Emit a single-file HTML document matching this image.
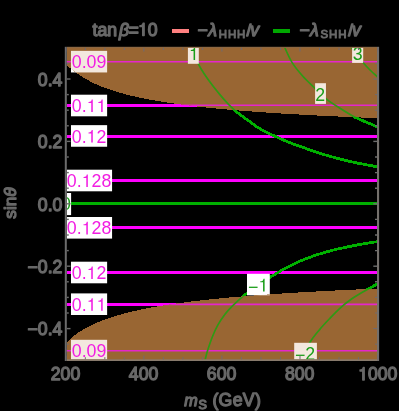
<!DOCTYPE html>
<html><head><meta charset="utf-8"><title>plot</title>
<style>
html,body{margin:0;padding:0;background:#000;}
body{width:399px;height:411px;overflow:hidden;}
svg{display:block;will-change:transform}
text{font-family:"Liberation Sans",sans-serif;}
.g{fill:#686868;stroke:#686868;stroke-width:1.30px;stroke-linejoin:round;font-size:17.7px}
.m{fill:#f21ce2;font-size:17.8px}
.gr{fill:#1a9e18;font-size:17.8px}
</style></head><body>
<svg width="399" height="411" viewBox="0 0 399 411">
<defs>
<clipPath id="fr"><rect x="66.80" y="48.00" width="310.20" height="311.20"/></clipPath>
<clipPath id="br"><path d="M66.50 65.19 C66.83 65.47 67.83 66.29 68.50 66.83 C69.17 67.37 69.83 67.92 70.50 68.45 C71.17 68.99 71.83 69.52 72.50 70.04 C73.17 70.56 73.83 71.07 74.50 71.57 C75.17 72.07 75.83 72.56 76.50 73.04 C77.17 73.51 77.83 73.98 78.50 74.44 C79.17 74.89 79.83 75.34 80.50 75.77 C81.17 76.21 81.83 76.63 82.50 77.04 C83.17 77.46 83.83 77.86 84.50 78.25 C85.17 78.65 85.50 78.86 86.50 79.41 C87.50 79.95 89.17 80.87 90.50 81.55 C91.83 82.23 93.17 82.88 94.50 83.50 C95.83 84.12 97.17 84.71 98.50 85.28 C99.83 85.85 101.17 86.40 102.50 86.92 C103.83 87.45 105.17 87.95 106.50 88.43 C107.83 88.92 109.17 89.38 110.50 89.83 C111.83 90.28 113.17 90.71 114.50 91.13 C115.83 91.55 117.17 91.95 118.50 92.34 C119.83 92.73 121.17 93.11 122.50 93.47 C123.83 93.84 125.17 94.19 126.50 94.54 C127.83 94.88 129.17 95.21 130.50 95.53 C131.83 95.86 133.17 96.17 134.50 96.48 C135.83 96.78 137.17 97.08 138.50 97.36 C139.83 97.65 141.17 97.93 142.50 98.21 C143.83 98.48 145.17 98.74 146.50 99.00 C147.83 99.26 149.17 99.51 150.50 99.76 C151.83 100.01 153.17 100.25 154.50 100.48 C155.83 100.72 157.17 100.95 158.50 101.17 C159.83 101.39 161.17 101.61 162.50 101.83 C163.83 102.04 165.17 102.25 166.50 102.45 C167.83 102.66 169.17 102.86 170.50 103.05 C171.83 103.25 173.17 103.44 174.50 103.63 C175.83 103.82 177.17 104.00 178.50 104.18 C179.83 104.36 181.17 104.54 182.50 104.71 C183.83 104.89 185.17 105.05 186.50 105.22 C187.83 105.39 189.17 105.55 190.50 105.71 C191.83 105.87 193.17 106.03 194.50 106.19 C195.83 106.34 197.17 106.49 198.50 106.64 C199.83 106.79 201.17 106.94 202.50 107.08 C203.83 107.23 205.17 107.37 206.50 107.51 C207.83 107.65 209.17 107.78 210.50 107.92 C211.83 108.05 213.17 108.19 214.50 108.32 C215.83 108.45 217.17 108.57 218.50 108.70 C219.83 108.83 221.17 108.95 222.50 109.07 C223.83 109.20 225.17 109.32 226.50 109.44 C227.83 109.56 229.17 109.67 230.50 109.79 C231.83 109.90 233.17 110.02 234.50 110.13 C235.83 110.24 237.17 110.35 238.50 110.46 C239.83 110.57 241.17 110.68 242.50 110.78 C243.83 110.89 245.17 110.99 246.50 111.09 C247.83 111.20 249.17 111.30 250.50 111.40 C251.83 111.50 253.17 111.60 254.50 111.69 C255.83 111.79 257.17 111.89 258.50 111.98 C259.83 112.08 261.17 112.17 262.50 112.26 C263.83 112.36 265.17 112.45 266.50 112.54 C267.83 112.63 269.17 112.72 270.50 112.81 C271.83 112.89 273.17 112.98 274.50 113.07 C275.83 113.15 277.17 113.24 278.50 113.32 C279.83 113.40 281.17 113.49 282.50 113.57 C283.83 113.65 285.17 113.73 286.50 113.81 C287.83 113.89 289.17 113.97 290.50 114.05 C291.83 114.13 293.17 114.21 294.50 114.28 C295.83 114.36 297.17 114.43 298.50 114.51 C299.83 114.58 301.17 114.66 302.50 114.73 C303.83 114.80 305.17 114.88 306.50 114.95 C307.83 115.02 309.17 115.09 310.50 115.16 C311.83 115.23 313.17 115.30 314.50 115.37 C315.83 115.44 317.17 115.51 318.50 115.57 C319.83 115.64 321.17 115.71 322.50 115.77 C323.83 115.84 325.17 115.90 326.50 115.97 C327.83 116.03 329.17 116.10 330.50 116.16 C331.83 116.22 333.17 116.29 334.50 116.35 C335.83 116.41 337.17 116.47 338.50 116.53 C339.83 116.59 341.17 116.65 342.50 116.71 C343.83 116.77 345.17 116.83 346.50 116.89 C347.83 116.95 349.17 117.01 350.50 117.07 C351.83 117.12 353.17 117.18 354.50 117.24 C355.83 117.29 357.17 117.35 358.50 117.41 C359.83 117.46 361.17 117.52 362.50 117.57 C363.83 117.63 365.17 117.68 366.50 117.73 C367.83 117.79 369.17 117.84 370.50 117.89 C371.83 117.95 373.35 118.01 374.50 118.05 C375.65 118.10 376.92 118.14 377.40 118.16 L377.40 47.10 L66.50 47.10 Z"/><path d="M66.50 342.77 C66.83 342.42 67.83 341.30 68.50 340.62 C69.17 339.94 69.83 339.31 70.50 338.70 C71.17 338.08 71.83 337.50 72.50 336.94 C73.17 336.39 73.83 335.85 74.50 335.34 C75.17 334.82 75.83 334.33 76.50 333.85 C77.17 333.37 77.83 332.90 78.50 332.46 C79.17 332.01 79.83 331.57 80.50 331.15 C81.17 330.73 81.83 330.32 82.50 329.92 C83.17 329.52 83.83 329.13 84.50 328.75 C85.17 328.38 85.50 328.18 86.50 327.65 C87.50 327.12 89.17 326.25 90.50 325.60 C91.83 324.94 93.17 324.32 94.50 323.72 C95.83 323.12 97.17 322.55 98.50 322.00 C99.83 321.45 101.17 320.93 102.50 320.42 C103.83 319.91 105.17 319.42 106.50 318.95 C107.83 318.47 109.17 318.02 110.50 317.58 C111.83 317.14 113.17 316.72 114.50 316.30 C115.83 315.89 117.17 315.50 118.50 315.11 C119.83 314.73 121.17 314.35 122.50 313.99 C123.83 313.63 125.17 313.28 126.50 312.94 C127.83 312.60 129.17 312.27 130.50 311.94 C131.83 311.62 133.17 311.31 134.50 311.00 C135.83 310.70 137.17 310.40 138.50 310.11 C139.83 309.82 141.17 309.54 142.50 309.27 C143.83 308.99 145.17 308.73 146.50 308.47 C147.83 308.20 149.17 307.95 150.50 307.70 C151.83 307.45 153.17 307.21 154.50 306.97 C155.83 306.73 157.17 306.50 158.50 306.27 C159.83 306.05 161.17 305.83 162.50 305.61 C163.83 305.39 165.17 305.18 166.50 304.97 C167.83 304.76 169.17 304.56 170.50 304.36 C171.83 304.16 173.17 303.96 174.50 303.77 C175.83 303.58 177.17 303.39 178.50 303.21 C179.83 303.02 181.17 302.84 182.50 302.66 C183.83 302.49 185.17 302.31 186.50 302.14 C187.83 301.97 189.17 301.80 190.50 301.64 C191.83 301.47 193.17 301.31 194.50 301.15 C195.83 300.99 197.17 300.83 198.50 300.68 C199.83 300.53 201.17 300.38 202.50 300.23 C203.83 300.08 205.17 299.93 206.50 299.79 C207.83 299.64 209.17 299.50 210.50 299.36 C211.83 299.22 213.17 299.09 214.50 298.95 C215.83 298.82 217.17 298.68 218.50 298.55 C219.83 298.42 221.17 298.29 222.50 298.16 C223.83 298.04 225.17 297.91 226.50 297.79 C227.83 297.67 229.17 297.54 230.50 297.42 C231.83 297.30 233.17 297.19 234.50 297.07 C235.83 296.95 237.17 296.84 238.50 296.73 C239.83 296.61 241.17 296.50 242.50 296.39 C243.83 296.28 245.17 296.17 246.50 296.06 C247.83 295.96 249.17 295.85 250.50 295.75 C251.83 295.64 253.17 295.54 254.50 295.44 C255.83 295.34 257.17 295.23 258.50 295.14 C259.83 295.04 261.17 294.94 262.50 294.84 C263.83 294.74 265.17 294.65 266.50 294.55 C267.83 294.46 269.17 294.37 270.50 294.27 C271.83 294.18 273.17 294.09 274.50 294.00 C275.83 293.91 277.17 293.82 278.50 293.73 C279.83 293.65 281.17 293.56 282.50 293.47 C283.83 293.39 285.17 293.30 286.50 293.22 C287.83 293.13 289.17 293.05 290.50 292.97 C291.83 292.89 293.17 292.81 294.50 292.72 C295.83 292.64 297.17 292.56 298.50 292.49 C299.83 292.41 301.17 292.33 302.50 292.25 C303.83 292.18 305.17 292.10 306.50 292.02 C307.83 291.95 309.17 291.87 310.50 291.80 C311.83 291.73 313.17 291.65 314.50 291.58 C315.83 291.51 317.17 291.44 318.50 291.37 C319.83 291.29 321.17 291.22 322.50 291.15 C323.83 291.08 325.17 291.02 326.50 290.95 C327.83 290.88 329.17 290.81 330.50 290.74 C331.83 290.68 333.17 290.61 334.50 290.55 C335.83 290.48 337.17 290.41 338.50 290.35 C339.83 290.29 341.17 290.22 342.50 290.16 C343.83 290.09 345.17 290.03 346.50 289.97 C347.83 289.91 349.17 289.85 350.50 289.79 C351.83 289.72 353.17 289.66 354.50 289.60 C355.83 289.54 357.17 289.48 358.50 289.43 C359.83 289.37 361.17 289.31 362.50 289.25 C363.83 289.19 365.17 289.13 366.50 289.08 C367.83 289.02 369.17 288.96 370.50 288.91 C371.83 288.85 373.35 288.79 374.50 288.74 C375.65 288.69 376.92 288.64 377.40 288.62 L377.40 359.60 L66.50 359.60 Z"/></clipPath>
</defs>
<rect width="399" height="411" fill="#000"/>

<g clip-path="url(#fr)">
<g stroke="#ff00ff" stroke-width="3" fill="none">
<line x1="65.8" y1="61.50" x2="378.1" y2="61.50"/>
<line x1="65.8" y1="105.50" x2="378.1" y2="105.50"/>
<line x1="65.8" y1="136.50" x2="378.1" y2="136.50"/>
<line x1="65.8" y1="180.50" x2="378.1" y2="180.50"/>
<line x1="65.8" y1="227.50" x2="378.1" y2="227.50"/>
<line x1="65.8" y1="272.50" x2="378.1" y2="272.50"/>
<line x1="65.8" y1="304.50" x2="378.1" y2="304.50"/>
<line x1="65.8" y1="350.60" x2="378.1" y2="350.60"/>
</g>
<g stroke="#00b000" stroke-width="2.8" fill="none" shape-rendering="crispEdges">
<line x1="65.8" y1="203.5" x2="378.1" y2="203.5" stroke-width="3"/>
<path d="M191.00 47.00 C192.22 49.80 195.97 59.13 198.30 63.80 C200.63 68.47 202.62 71.37 205.00 75.00 C207.38 78.63 210.08 82.28 212.60 85.60 C215.12 88.92 217.60 91.93 220.10 94.90 C222.60 97.87 225.10 100.78 227.60 103.40 C230.10 106.02 232.70 108.50 235.10 110.60 C237.50 112.70 239.72 114.28 242.00 116.00 C244.28 117.72 246.22 119.03 248.80 120.90 C251.38 122.77 254.58 125.30 257.50 127.20 C260.42 129.10 263.37 130.78 266.30 132.30 C269.23 133.82 272.17 134.98 275.10 136.30 C278.03 137.62 280.98 138.97 283.90 140.20 C286.82 141.43 289.68 142.60 292.60 143.70 C295.52 144.80 298.50 145.75 301.40 146.80 C304.30 147.85 306.12 148.67 310.00 150.00 C313.88 151.33 319.77 153.32 324.70 154.80 C329.63 156.28 334.05 157.50 339.60 158.90 C345.15 160.30 351.53 161.85 358.00 163.20 C364.47 164.55 375.00 166.37 378.40 167.00"/>
<path d="M284.50 47.00 C285.75 49.57 289.02 57.60 292.00 62.40 C294.98 67.20 298.68 71.58 302.40 75.80 C306.12 80.02 310.33 83.87 314.30 87.70 C318.27 91.53 321.98 95.42 326.20 98.80 C330.42 102.18 334.87 104.97 339.60 108.00 C344.33 111.03 349.62 114.42 354.60 117.00 C359.58 119.58 365.53 121.77 369.50 123.50 C373.47 125.23 376.92 126.75 378.40 127.40"/>
<path d="M351.00 47.00 C352.00 48.33 355.00 52.42 357.00 55.00 C359.00 57.58 360.83 60.00 363.00 62.50 C365.17 65.00 367.43 67.48 370.00 70.00 C372.57 72.52 377.00 76.33 378.40 77.60"/>
<path d="M204.80 361.00 C204.92 360.57 205.03 360.15 205.50 358.40 C205.97 356.65 206.43 354.15 207.60 350.50 C208.77 346.85 210.80 340.73 212.50 336.50 C214.20 332.27 215.75 328.75 217.80 325.10 C219.85 321.45 222.75 317.38 224.80 314.60 C226.85 311.82 228.33 310.30 230.10 308.40 C231.87 306.50 233.65 304.87 235.40 303.20 C237.15 301.53 238.70 300.05 240.60 298.40 C242.50 296.75 243.90 295.57 246.80 293.30 C249.70 291.03 254.10 287.48 258.00 284.80 C261.90 282.12 266.10 279.70 270.20 277.20 C274.30 274.70 277.82 272.40 282.60 269.80 C287.38 267.20 293.47 264.00 298.90 261.60 C304.33 259.20 309.77 257.25 315.20 255.40 C320.63 253.55 326.08 251.92 331.50 250.50 C336.92 249.08 342.28 248.03 347.70 246.90 C353.12 245.77 358.88 244.60 364.00 243.70 C369.12 242.80 376.00 241.87 378.40 241.50"/>
<path d="M301.00 361.00 C302.50 357.87 306.83 347.52 310.00 342.20 C313.17 336.88 316.65 333.12 320.00 329.10 C323.35 325.08 326.75 321.60 330.10 318.10 C333.45 314.60 336.77 311.12 340.10 308.10 C343.43 305.08 346.75 302.42 350.10 300.00 C353.45 297.58 357.18 295.43 360.20 293.60 C363.22 291.77 365.17 290.72 368.20 289.00 C371.23 287.28 376.70 284.25 378.40 283.30"/>
</g>
<rect x="70.98" y="50.85" width="36.14" height="21.60" fill="#fff"/>
<rect x="70.98" y="94.70" width="36.14" height="21.60" fill="#fff"/>
<rect x="70.98" y="125.15" width="36.14" height="21.60" fill="#fff"/>
<rect x="66.03" y="169.70" width="46.04" height="21.60" fill="#fff"/>
<rect x="66.03" y="217.00" width="46.04" height="21.60" fill="#fff"/>
<rect x="70.98" y="261.70" width="36.14" height="21.60" fill="#fff"/>
<rect x="70.98" y="293.40" width="36.14" height="21.60" fill="#fff"/>
<rect x="70.98" y="339.80" width="36.14" height="21.60" fill="#fff"/>
<rect x="187.90" y="47.00" width="10.90" height="16.80" fill="#fff"/>
<rect x="315.10" y="83.20" width="10.85" height="20.70" fill="#fff"/>
<rect x="352.10" y="47.00" width="11.10" height="15.90" fill="#fff"/>
<rect x="247.00" y="273.80" width="22.80" height="21.50" fill="#fff"/>
<rect x="294.20" y="342.80" width="22.70" height="18.20" fill="#fff"/>
<rect x="60.00" y="193.00" width="11.10" height="22.10" fill="#fff"/>
</g>
<path d="M66.50 65.19 C66.83 65.47 67.83 66.29 68.50 66.83 C69.17 67.37 69.83 67.92 70.50 68.45 C71.17 68.99 71.83 69.52 72.50 70.04 C73.17 70.56 73.83 71.07 74.50 71.57 C75.17 72.07 75.83 72.56 76.50 73.04 C77.17 73.51 77.83 73.98 78.50 74.44 C79.17 74.89 79.83 75.34 80.50 75.77 C81.17 76.21 81.83 76.63 82.50 77.04 C83.17 77.46 83.83 77.86 84.50 78.25 C85.17 78.65 85.50 78.86 86.50 79.41 C87.50 79.95 89.17 80.87 90.50 81.55 C91.83 82.23 93.17 82.88 94.50 83.50 C95.83 84.12 97.17 84.71 98.50 85.28 C99.83 85.85 101.17 86.40 102.50 86.92 C103.83 87.45 105.17 87.95 106.50 88.43 C107.83 88.92 109.17 89.38 110.50 89.83 C111.83 90.28 113.17 90.71 114.50 91.13 C115.83 91.55 117.17 91.95 118.50 92.34 C119.83 92.73 121.17 93.11 122.50 93.47 C123.83 93.84 125.17 94.19 126.50 94.54 C127.83 94.88 129.17 95.21 130.50 95.53 C131.83 95.86 133.17 96.17 134.50 96.48 C135.83 96.78 137.17 97.08 138.50 97.36 C139.83 97.65 141.17 97.93 142.50 98.21 C143.83 98.48 145.17 98.74 146.50 99.00 C147.83 99.26 149.17 99.51 150.50 99.76 C151.83 100.01 153.17 100.25 154.50 100.48 C155.83 100.72 157.17 100.95 158.50 101.17 C159.83 101.39 161.17 101.61 162.50 101.83 C163.83 102.04 165.17 102.25 166.50 102.45 C167.83 102.66 169.17 102.86 170.50 103.05 C171.83 103.25 173.17 103.44 174.50 103.63 C175.83 103.82 177.17 104.00 178.50 104.18 C179.83 104.36 181.17 104.54 182.50 104.71 C183.83 104.89 185.17 105.05 186.50 105.22 C187.83 105.39 189.17 105.55 190.50 105.71 C191.83 105.87 193.17 106.03 194.50 106.19 C195.83 106.34 197.17 106.49 198.50 106.64 C199.83 106.79 201.17 106.94 202.50 107.08 C203.83 107.23 205.17 107.37 206.50 107.51 C207.83 107.65 209.17 107.78 210.50 107.92 C211.83 108.05 213.17 108.19 214.50 108.32 C215.83 108.45 217.17 108.57 218.50 108.70 C219.83 108.83 221.17 108.95 222.50 109.07 C223.83 109.20 225.17 109.32 226.50 109.44 C227.83 109.56 229.17 109.67 230.50 109.79 C231.83 109.90 233.17 110.02 234.50 110.13 C235.83 110.24 237.17 110.35 238.50 110.46 C239.83 110.57 241.17 110.68 242.50 110.78 C243.83 110.89 245.17 110.99 246.50 111.09 C247.83 111.20 249.17 111.30 250.50 111.40 C251.83 111.50 253.17 111.60 254.50 111.69 C255.83 111.79 257.17 111.89 258.50 111.98 C259.83 112.08 261.17 112.17 262.50 112.26 C263.83 112.36 265.17 112.45 266.50 112.54 C267.83 112.63 269.17 112.72 270.50 112.81 C271.83 112.89 273.17 112.98 274.50 113.07 C275.83 113.15 277.17 113.24 278.50 113.32 C279.83 113.40 281.17 113.49 282.50 113.57 C283.83 113.65 285.17 113.73 286.50 113.81 C287.83 113.89 289.17 113.97 290.50 114.05 C291.83 114.13 293.17 114.21 294.50 114.28 C295.83 114.36 297.17 114.43 298.50 114.51 C299.83 114.58 301.17 114.66 302.50 114.73 C303.83 114.80 305.17 114.88 306.50 114.95 C307.83 115.02 309.17 115.09 310.50 115.16 C311.83 115.23 313.17 115.30 314.50 115.37 C315.83 115.44 317.17 115.51 318.50 115.57 C319.83 115.64 321.17 115.71 322.50 115.77 C323.83 115.84 325.17 115.90 326.50 115.97 C327.83 116.03 329.17 116.10 330.50 116.16 C331.83 116.22 333.17 116.29 334.50 116.35 C335.83 116.41 337.17 116.47 338.50 116.53 C339.83 116.59 341.17 116.65 342.50 116.71 C343.83 116.77 345.17 116.83 346.50 116.89 C347.83 116.95 349.17 117.01 350.50 117.07 C351.83 117.12 353.17 117.18 354.50 117.24 C355.83 117.29 357.17 117.35 358.50 117.41 C359.83 117.46 361.17 117.52 362.50 117.57 C363.83 117.63 365.17 117.68 366.50 117.73 C367.83 117.79 369.17 117.84 370.50 117.89 C371.83 117.95 373.35 118.01 374.50 118.05 C375.65 118.10 376.92 118.14 377.40 118.16 L377.40 47.10 L66.50 47.10 Z" fill="#996633" shape-rendering="crispEdges"/>
<path d="M66.50 342.77 C66.83 342.42 67.83 341.30 68.50 340.62 C69.17 339.94 69.83 339.31 70.50 338.70 C71.17 338.08 71.83 337.50 72.50 336.94 C73.17 336.39 73.83 335.85 74.50 335.34 C75.17 334.82 75.83 334.33 76.50 333.85 C77.17 333.37 77.83 332.90 78.50 332.46 C79.17 332.01 79.83 331.57 80.50 331.15 C81.17 330.73 81.83 330.32 82.50 329.92 C83.17 329.52 83.83 329.13 84.50 328.75 C85.17 328.38 85.50 328.18 86.50 327.65 C87.50 327.12 89.17 326.25 90.50 325.60 C91.83 324.94 93.17 324.32 94.50 323.72 C95.83 323.12 97.17 322.55 98.50 322.00 C99.83 321.45 101.17 320.93 102.50 320.42 C103.83 319.91 105.17 319.42 106.50 318.95 C107.83 318.47 109.17 318.02 110.50 317.58 C111.83 317.14 113.17 316.72 114.50 316.30 C115.83 315.89 117.17 315.50 118.50 315.11 C119.83 314.73 121.17 314.35 122.50 313.99 C123.83 313.63 125.17 313.28 126.50 312.94 C127.83 312.60 129.17 312.27 130.50 311.94 C131.83 311.62 133.17 311.31 134.50 311.00 C135.83 310.70 137.17 310.40 138.50 310.11 C139.83 309.82 141.17 309.54 142.50 309.27 C143.83 308.99 145.17 308.73 146.50 308.47 C147.83 308.20 149.17 307.95 150.50 307.70 C151.83 307.45 153.17 307.21 154.50 306.97 C155.83 306.73 157.17 306.50 158.50 306.27 C159.83 306.05 161.17 305.83 162.50 305.61 C163.83 305.39 165.17 305.18 166.50 304.97 C167.83 304.76 169.17 304.56 170.50 304.36 C171.83 304.16 173.17 303.96 174.50 303.77 C175.83 303.58 177.17 303.39 178.50 303.21 C179.83 303.02 181.17 302.84 182.50 302.66 C183.83 302.49 185.17 302.31 186.50 302.14 C187.83 301.97 189.17 301.80 190.50 301.64 C191.83 301.47 193.17 301.31 194.50 301.15 C195.83 300.99 197.17 300.83 198.50 300.68 C199.83 300.53 201.17 300.38 202.50 300.23 C203.83 300.08 205.17 299.93 206.50 299.79 C207.83 299.64 209.17 299.50 210.50 299.36 C211.83 299.22 213.17 299.09 214.50 298.95 C215.83 298.82 217.17 298.68 218.50 298.55 C219.83 298.42 221.17 298.29 222.50 298.16 C223.83 298.04 225.17 297.91 226.50 297.79 C227.83 297.67 229.17 297.54 230.50 297.42 C231.83 297.30 233.17 297.19 234.50 297.07 C235.83 296.95 237.17 296.84 238.50 296.73 C239.83 296.61 241.17 296.50 242.50 296.39 C243.83 296.28 245.17 296.17 246.50 296.06 C247.83 295.96 249.17 295.85 250.50 295.75 C251.83 295.64 253.17 295.54 254.50 295.44 C255.83 295.34 257.17 295.23 258.50 295.14 C259.83 295.04 261.17 294.94 262.50 294.84 C263.83 294.74 265.17 294.65 266.50 294.55 C267.83 294.46 269.17 294.37 270.50 294.27 C271.83 294.18 273.17 294.09 274.50 294.00 C275.83 293.91 277.17 293.82 278.50 293.73 C279.83 293.65 281.17 293.56 282.50 293.47 C283.83 293.39 285.17 293.30 286.50 293.22 C287.83 293.13 289.17 293.05 290.50 292.97 C291.83 292.89 293.17 292.81 294.50 292.72 C295.83 292.64 297.17 292.56 298.50 292.49 C299.83 292.41 301.17 292.33 302.50 292.25 C303.83 292.18 305.17 292.10 306.50 292.02 C307.83 291.95 309.17 291.87 310.50 291.80 C311.83 291.73 313.17 291.65 314.50 291.58 C315.83 291.51 317.17 291.44 318.50 291.37 C319.83 291.29 321.17 291.22 322.50 291.15 C323.83 291.08 325.17 291.02 326.50 290.95 C327.83 290.88 329.17 290.81 330.50 290.74 C331.83 290.68 333.17 290.61 334.50 290.55 C335.83 290.48 337.17 290.41 338.50 290.35 C339.83 290.29 341.17 290.22 342.50 290.16 C343.83 290.09 345.17 290.03 346.50 289.97 C347.83 289.91 349.17 289.85 350.50 289.79 C351.83 289.72 353.17 289.66 354.50 289.60 C355.83 289.54 357.17 289.48 358.50 289.43 C359.83 289.37 361.17 289.31 362.50 289.25 C363.83 289.19 365.17 289.13 366.50 289.08 C367.83 289.02 369.17 288.96 370.50 288.91 C371.83 288.85 373.35 288.79 374.50 288.74 C375.65 288.69 376.92 288.64 377.40 288.62 L377.40 359.60 L66.50 359.60 Z" fill="#996633" shape-rendering="crispEdges"/>
<g clip-path="url(#br)">
<g stroke="#e526cc" stroke-width="1.6" fill="none">
<line x1="65.8" y1="61.75" x2="377.0" y2="61.75"/>
<line x1="65.8" y1="105.30" x2="377.0" y2="105.30"/>
<line x1="65.8" y1="136.50" x2="377.0" y2="136.50"/>
<line x1="65.8" y1="180.50" x2="377.0" y2="180.50"/>
<line x1="65.8" y1="227.50" x2="377.0" y2="227.50"/>
<line x1="65.8" y1="272.50" x2="377.0" y2="272.50"/>
<line x1="65.8" y1="304.40" x2="377.0" y2="304.40"/>
<line x1="65.8" y1="350.70" x2="377.0" y2="350.70"/>
</g>
<g stroke="#2f9a14" stroke-width="1.7" fill="none">
<path d="M191.00 47.00 C192.22 49.80 195.97 59.13 198.30 63.80 C200.63 68.47 202.62 71.37 205.00 75.00 C207.38 78.63 210.08 82.28 212.60 85.60 C215.12 88.92 217.60 91.93 220.10 94.90 C222.60 97.87 225.10 100.78 227.60 103.40 C230.10 106.02 232.70 108.50 235.10 110.60 C237.50 112.70 239.72 114.28 242.00 116.00 C244.28 117.72 246.22 119.03 248.80 120.90 C251.38 122.77 254.58 125.30 257.50 127.20 C260.42 129.10 263.37 130.78 266.30 132.30 C269.23 133.82 272.17 134.98 275.10 136.30 C278.03 137.62 280.98 138.97 283.90 140.20 C286.82 141.43 289.68 142.60 292.60 143.70 C295.52 144.80 298.50 145.75 301.40 146.80 C304.30 147.85 306.12 148.67 310.00 150.00 C313.88 151.33 319.77 153.32 324.70 154.80 C329.63 156.28 334.05 157.50 339.60 158.90 C345.15 160.30 351.53 161.85 358.00 163.20 C364.47 164.55 375.00 166.37 378.40 167.00"/>
<path d="M284.50 47.00 C285.75 49.57 289.02 57.60 292.00 62.40 C294.98 67.20 298.68 71.58 302.40 75.80 C306.12 80.02 310.33 83.87 314.30 87.70 C318.27 91.53 321.98 95.42 326.20 98.80 C330.42 102.18 334.87 104.97 339.60 108.00 C344.33 111.03 349.62 114.42 354.60 117.00 C359.58 119.58 365.53 121.77 369.50 123.50 C373.47 125.23 376.92 126.75 378.40 127.40"/>
<path d="M351.00 47.00 C352.00 48.33 355.00 52.42 357.00 55.00 C359.00 57.58 360.83 60.00 363.00 62.50 C365.17 65.00 367.43 67.48 370.00 70.00 C372.57 72.52 377.00 76.33 378.40 77.60"/>
<path d="M204.80 361.00 C204.92 360.57 205.03 360.15 205.50 358.40 C205.97 356.65 206.43 354.15 207.60 350.50 C208.77 346.85 210.80 340.73 212.50 336.50 C214.20 332.27 215.75 328.75 217.80 325.10 C219.85 321.45 222.75 317.38 224.80 314.60 C226.85 311.82 228.33 310.30 230.10 308.40 C231.87 306.50 233.65 304.87 235.40 303.20 C237.15 301.53 238.70 300.05 240.60 298.40 C242.50 296.75 243.90 295.57 246.80 293.30 C249.70 291.03 254.10 287.48 258.00 284.80 C261.90 282.12 266.10 279.70 270.20 277.20 C274.30 274.70 277.82 272.40 282.60 269.80 C287.38 267.20 293.47 264.00 298.90 261.60 C304.33 259.20 309.77 257.25 315.20 255.40 C320.63 253.55 326.08 251.92 331.50 250.50 C336.92 249.08 342.28 248.03 347.70 246.90 C353.12 245.77 358.88 244.60 364.00 243.70 C369.12 242.80 376.00 241.87 378.40 241.50"/>
<path d="M301.00 361.00 C302.50 357.87 306.83 347.52 310.00 342.20 C313.17 336.88 316.65 333.12 320.00 329.10 C323.35 325.08 326.75 321.60 330.10 318.10 C333.45 314.60 336.77 311.12 340.10 308.10 C343.43 305.08 346.75 302.42 350.10 300.00 C353.45 297.58 357.18 295.43 360.20 293.60 C363.22 291.77 365.17 290.72 368.20 289.00 C371.23 287.28 376.70 284.25 378.40 283.30"/>
</g>
<rect x="70.98" y="50.85" width="36.14" height="21.60" fill="#f3e8de"/>
<rect x="70.98" y="94.70" width="36.14" height="21.60" fill="#f3e8de"/>
<rect x="70.98" y="125.15" width="36.14" height="21.60" fill="#f3e8de"/>
<rect x="66.03" y="169.70" width="46.04" height="21.60" fill="#f3e8de"/>
<rect x="66.03" y="217.00" width="46.04" height="21.60" fill="#f3e8de"/>
<rect x="70.98" y="261.70" width="36.14" height="21.60" fill="#f3e8de"/>
<rect x="70.98" y="293.40" width="36.14" height="21.60" fill="#f3e8de"/>
<rect x="70.98" y="339.80" width="36.14" height="21.60" fill="#f3e8de"/>
<rect x="187.90" y="47.00" width="10.90" height="16.80" fill="#f3e8de"/>
<rect x="315.10" y="83.20" width="10.85" height="20.70" fill="#f3e8de"/>
<rect x="352.10" y="47.00" width="11.10" height="15.90" fill="#f3e8de"/>
<rect x="247.00" y="273.80" width="22.80" height="21.50" fill="#f3e8de"/>
<rect x="294.20" y="342.80" width="22.70" height="18.20" fill="#f3e8de"/>
<rect x="60.00" y="193.00" width="11.10" height="22.10" fill="#f3e8de"/>
</g>
<g clip-path="url(#fr)">
<text class="m" x="71.73 81.63 86.58 96.47" y="68.25">0.09</text>
<path class="m" d="M92.79 112.10 L91.24 112.10 L91.24 103.06 L88.50 103.06 L88.50 101.99 L89.96 101.85 L91.11 101.15 L91.76 99.48 L92.79 99.48Z"/>
<path class="m" d="M102.68 112.10 L101.14 112.10 L101.14 103.06 L98.39 103.06 L98.39 101.99 L99.85 101.85 L101.01 101.15 L101.65 99.48 L102.68 99.48Z"/>
<text class="m" x="71.73 81.63" y="112.10">0.</text>
<path class="m" d="M92.79 142.55 L91.24 142.55 L91.24 133.51 L88.50 133.51 L88.50 132.44 L89.96 132.30 L91.11 131.60 L91.76 129.93 L92.79 129.93Z"/>
<text class="m" x="71.73 81.63 96.47" y="142.55">0.2</text>
<path class="m" d="M87.84 187.10 L86.29 187.10 L86.29 178.06 L83.55 178.06 L83.55 176.99 L85.01 176.85 L86.17 176.15 L86.81 174.48 L87.84 174.48Z"/>
<text class="m" x="66.78 76.68 91.52 101.42" y="187.10">0.28</text>
<path class="m" d="M87.84 234.40 L86.29 234.40 L86.29 225.36 L83.55 225.36 L83.55 224.29 L85.01 224.15 L86.17 223.45 L86.81 221.78 L87.84 221.78Z"/>
<text class="m" x="66.78 76.68 91.52 101.42" y="234.40">0.28</text>
<path class="m" d="M92.79 279.10 L91.24 279.10 L91.24 270.06 L88.50 270.06 L88.50 268.99 L89.96 268.85 L91.11 268.15 L91.76 266.48 L92.79 266.48Z"/>
<text class="m" x="71.73 81.63 96.47" y="279.10">0.2</text>
<path class="m" d="M92.79 310.80 L91.24 310.80 L91.24 301.76 L88.50 301.76 L88.50 300.69 L89.96 300.55 L91.11 299.85 L91.76 298.18 L92.79 298.18Z"/>
<path class="m" d="M102.68 310.80 L101.14 310.80 L101.14 301.76 L98.39 301.76 L98.39 300.69 L99.85 300.55 L101.01 299.85 L101.65 298.18 L102.68 298.18Z"/>
<text class="m" x="71.73 81.63" y="310.80">0.</text>
<text class="m" x="71.73 81.63 86.58 96.47" y="357.20">0.09</text>
<path class="gr" d="M195.11 60.10 L193.57 60.10 L193.57 51.06 L190.82 51.06 L190.82 49.99 L192.28 49.85 L193.44 49.15 L194.08 47.48 L195.11 47.48Z"/>
<text class="gr" x="315.18" y="100.50">2</text>
<text class="gr" x="352.70" y="60.10">3</text>
<text class="gr" x="248.00" y="292.50">−</text>
<path class="gr" d="M264.61 291.40 L263.06 291.40 L263.06 282.36 L260.32 282.36 L260.32 281.29 L261.78 281.15 L262.94 280.45 L263.58 278.78 L264.61 278.78Z"/>
<text class="gr" x="294.90" y="361.10">−</text>
<text class="gr" x="305.30" y="360.00">2</text>
<text class="gr" x="61.00" y="210.45">0</text>
</g>
<rect x="64.8" y="46.8" width="2" height="314.2" fill="#6c6c6c"/>
<rect x="377" y="46.8" width="2.1" height="314.2" fill="#74706c"/>
<rect x="66.8" y="46.8" width="310.2" height="1.1" fill="#8c6844"/>
<rect x="66.8" y="359.3" width="310.2" height="1.7" fill="#887a6c"/>
<path d="M65.80 359.30v-3.70 M65.80 47.90v3.70" stroke="#6e6a74" stroke-width="1" fill="none"/>
<path d="M85.32 359.30v-2.10 M85.32 47.90v2.10" stroke="#6e6a74" stroke-width="1" fill="none"/>
<path d="M104.83 359.30v-2.10 M104.83 47.90v2.10" stroke="#6e6a74" stroke-width="1" fill="none"/>
<path d="M124.35 359.30v-2.10 M124.35 47.90v2.10" stroke="#6e6a74" stroke-width="1" fill="none"/>
<path d="M143.86 359.30v-3.70 M143.86 47.90v3.70" stroke="#6e6a74" stroke-width="1" fill="none"/>
<path d="M163.38 359.30v-2.10 M163.38 47.90v2.10" stroke="#6e6a74" stroke-width="1" fill="none"/>
<path d="M182.89 359.30v-2.10 M182.89 47.90v2.10" stroke="#6e6a74" stroke-width="1" fill="none"/>
<path d="M202.41 359.30v-2.10 M202.41 47.90v2.10" stroke="#6e6a74" stroke-width="1" fill="none"/>
<path d="M221.93 359.30v-3.70 M221.93 47.90v3.70" stroke="#6e6a74" stroke-width="1" fill="none"/>
<path d="M241.44 359.30v-2.10 M241.44 47.90v2.10" stroke="#6e6a74" stroke-width="1" fill="none"/>
<path d="M260.96 359.30v-2.10 M260.96 47.90v2.10" stroke="#6e6a74" stroke-width="1" fill="none"/>
<path d="M280.47 359.30v-2.10 M280.47 47.90v2.10" stroke="#6e6a74" stroke-width="1" fill="none"/>
<path d="M299.99 359.30v-3.70 M299.99 47.90v3.70" stroke="#6e6a74" stroke-width="1" fill="none"/>
<path d="M319.50 359.30v-2.10 M319.50 47.90v2.10" stroke="#6e6a74" stroke-width="1" fill="none"/>
<path d="M339.02 359.30v-2.10 M339.02 47.90v2.10" stroke="#6e6a74" stroke-width="1" fill="none"/>
<path d="M358.53 359.30v-2.10 M358.53 47.90v2.10" stroke="#6e6a74" stroke-width="1" fill="none"/>
<path d="M378.05 359.30v-3.70 M378.05 47.90v3.70" stroke="#6e6a74" stroke-width="1" fill="none"/>
<path d="M66.80 344.20h2.00" stroke="#6e6a74" stroke-width="1.0" fill="none"/>
<path d="M377.00 344.20h-2.00" stroke="#6e6a74" stroke-width="1.0" fill="none"/>
<path d="M66.80 328.60h3.70" stroke="#6c6c6c" stroke-width="1.4" fill="none"/>
<path d="M377.00 328.60h-3.70" stroke="#6e6a74" stroke-width="1.0" fill="none"/>
<path d="M66.80 313.00h2.00" stroke="#6c6c6c" stroke-width="1.4" fill="none"/>
<path d="M377.00 313.00h-2.00" stroke="#6e6a74" stroke-width="1.0" fill="none"/>
<path d="M66.80 297.40h2.00" stroke="#6c6c6c" stroke-width="1.4" fill="none"/>
<path d="M377.00 297.40h-2.00" stroke="#6e6a74" stroke-width="1.0" fill="none"/>
<path d="M66.80 281.80h2.00" stroke="#6c6c6c" stroke-width="1.4" fill="none"/>
<path d="M377.00 281.80h-2.00" stroke="#6c6c6c" stroke-width="1.4" fill="none"/>
<path d="M66.80 266.20h3.70" stroke="#6c6c6c" stroke-width="1.4" fill="none"/>
<path d="M377.00 266.20h-3.70" stroke="#6c6c6c" stroke-width="1.4" fill="none"/>
<path d="M66.80 250.60h2.00" stroke="#6c6c6c" stroke-width="1.4" fill="none"/>
<path d="M377.00 250.60h-2.00" stroke="#6c6c6c" stroke-width="1.4" fill="none"/>
<path d="M66.80 235.00h2.00" stroke="#6c6c6c" stroke-width="1.4" fill="none"/>
<path d="M377.00 235.00h-2.00" stroke="#6c6c6c" stroke-width="1.4" fill="none"/>
<path d="M66.80 219.40h2.00" stroke="#6c6c6c" stroke-width="1.4" fill="none"/>
<path d="M377.00 219.40h-2.00" stroke="#6c6c6c" stroke-width="1.4" fill="none"/>
<path d="M66.80 203.80h3.70" stroke="#6c6c6c" stroke-width="1.4" fill="none"/>
<path d="M377.00 203.80h-3.70" stroke="#6c6c6c" stroke-width="1.4" fill="none"/>
<path d="M66.80 188.20h2.00" stroke="#6c6c6c" stroke-width="1.4" fill="none"/>
<path d="M377.00 188.20h-2.00" stroke="#6c6c6c" stroke-width="1.4" fill="none"/>
<path d="M66.80 172.60h2.00" stroke="#6c6c6c" stroke-width="1.4" fill="none"/>
<path d="M377.00 172.60h-2.00" stroke="#6c6c6c" stroke-width="1.4" fill="none"/>
<path d="M66.80 157.00h2.00" stroke="#6c6c6c" stroke-width="1.4" fill="none"/>
<path d="M377.00 157.00h-2.00" stroke="#6c6c6c" stroke-width="1.4" fill="none"/>
<path d="M66.80 141.40h3.70" stroke="#6c6c6c" stroke-width="1.4" fill="none"/>
<path d="M377.00 141.40h-3.70" stroke="#6c6c6c" stroke-width="1.4" fill="none"/>
<path d="M66.80 125.80h2.00" stroke="#6c6c6c" stroke-width="1.4" fill="none"/>
<path d="M377.00 125.80h-2.00" stroke="#6c6c6c" stroke-width="1.4" fill="none"/>
<path d="M66.80 110.20h2.00" stroke="#6c6c6c" stroke-width="1.4" fill="none"/>
<path d="M377.00 110.20h-2.00" stroke="#6e6a74" stroke-width="1.0" fill="none"/>
<path d="M66.80 94.60h2.00" stroke="#6c6c6c" stroke-width="1.4" fill="none"/>
<path d="M377.00 94.60h-2.00" stroke="#6e6a74" stroke-width="1.0" fill="none"/>
<path d="M66.80 79.00h3.70" stroke="#6c6c6c" stroke-width="1.4" fill="none"/>
<path d="M377.00 79.00h-3.70" stroke="#6e6a74" stroke-width="1.0" fill="none"/>
<path d="M66.80 63.40h2.00" stroke="#6e6a74" stroke-width="1.0" fill="none"/>
<path d="M377.00 63.40h-2.00" stroke="#6e6a74" stroke-width="1.0" fill="none"/>
<text class="g" x="50.74 60.58 70.42" y="380.00">200</text>
<text class="g" x="128.80 138.64 148.48" y="380.00">400</text>
<text class="g" x="206.86 216.70 226.55" y="380.00">600</text>
<text class="g" x="284.93 294.77 304.61" y="380.00">800</text>
<path class="g" d="M364.24 380.00 L362.70 380.00 L362.70 371.01 L359.98 371.01 L359.98 369.95 L361.43 369.80 L362.58 369.11 L363.22 367.45 L364.24 367.45Z"/>
<text class="g" x="367.91 377.75 387.59" y="380.00">000</text>
<text class="g" x="37.80 47.64 52.56" y="85.70">0.4</text>
<text class="g" x="37.80 47.64 52.56" y="148.10">0.2</text>
<text class="g" x="37.80 47.64 52.56" y="210.50">0.0</text>
<text class="g" x="27.46 37.80 47.64 52.56" y="272.90">−0.2</text>
<text class="g" x="27.46 37.80 47.64 52.56" y="335.30">−0.4</text>
<text class="g" x="184.3" y="406"><tspan font-style="italic" font-size="16.2">m</tspan><tspan font-size="12.6" dy="3.0" dx="0.6">S</tspan><tspan dy="-3.0" dx="0.4" style="letter-spacing:0.3px"> (GeV)</tspan></text>
<text class="g" style="font-size:17.2px" transform="translate(16.4,203) rotate(-90)" text-anchor="middle">sin<tspan font-style="italic">θ</tspan></text>
<text class="g" x="92.5" y="35.6">tan<tspan font-style="italic" dx="1.8">β</tspan><tspan dx="-0.6">=</tspan></text>
<path class="g" d="M144.18 35.60 L142.64 35.60 L142.64 26.61 L139.91 26.61 L139.91 25.55 L141.36 25.40 L142.51 24.71 L143.15 23.05 L144.18 23.05Z"/>
<text class="g" x="147.84" y="35.60">0</text>
<rect x="172" y="29" width="17" height="4" fill="#ff8080"/>
<rect x="273" y="29" width="17" height="4" fill="#00a800"/>
<text class="g" x="197.60" y="35.6">−</text>
<text class="g" x="208.20" y="35.6" font-style="italic">λ</text>
<text class="g" x="218.80" y="38.3" style="font-size:11.4px;letter-spacing:0.9px;stroke-width:1.0px">HHH</text>
<text class="g" x="246.40" y="35.6" style="font-size:17px">/</text>
<text class="g" x="250.20" y="35.6" font-style="italic">v</text>
<text class="g" x="299.40" y="35.6">−</text>
<text class="g" x="310.00" y="35.6" font-style="italic">λ</text>
<text class="g" x="320.60" y="38.3" style="font-size:11.4px;letter-spacing:0.9px;stroke-width:1.0px">SHH</text>
<text class="g" x="348.20" y="35.6" style="font-size:17px">/</text>
<text class="g" x="352.00" y="35.6" font-style="italic">v</text>
</svg></body></html>
